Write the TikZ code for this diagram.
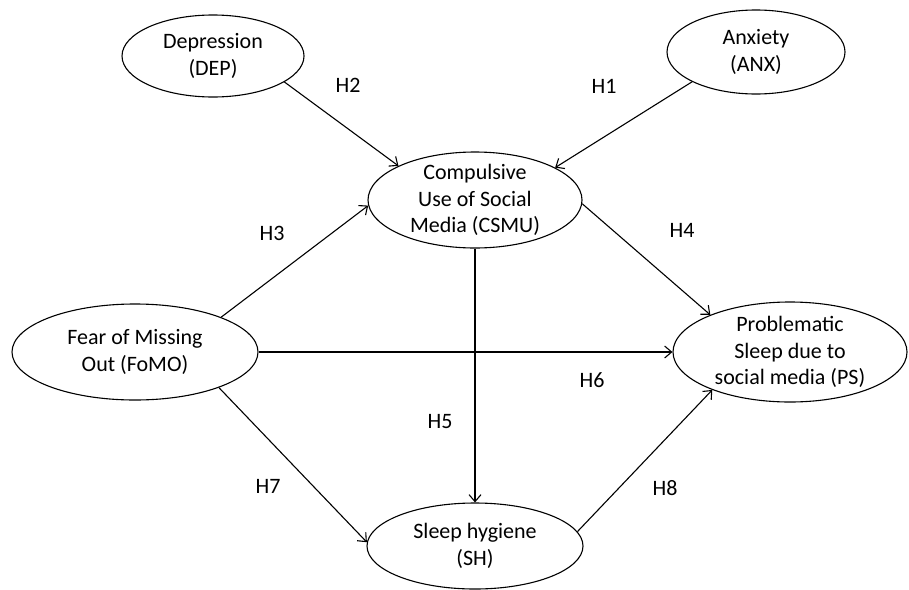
\documentclass[tikz,border=0pt]{standalone}
\usepackage{fontspec}
\setmainfont{Carlito}
\usetikzlibrary{arrows.meta,shapes.geometric}

\begin{document}
\begin{tikzpicture}[x=1pt, y=-1pt, line width=1.1pt,
		construct/.style = {shape=ellipse, draw, align=center, inner sep=-8pt,
	font=\fontsize{22}{26.5}\selectfont},
		hyp/.style = {font=\fontsize{22}{26.5}\selectfont},
		link/.style = {draw, -{Straight Barb[length=7pt, width=12pt]}}]
			\useasboundingbox (0,0) rectangle (909,589);
			\node[construct, minimum width=182pt, minimum height=82pt] (dep) at (213,56) {Depression \\ (DEP)};
			\node[construct, minimum width=178pt, minimum height=84pt] (anx) at (756,52) {Anxiety \\ (ANX)};
			\node[construct, minimum width=214pt, minimum height=96pt] (csmu) at (475,200) {Compulsive \\ Use of Social \\ Media (CSMU)};
			\node[construct, minimum width=246pt, minimum height=96pt] (fomo) at (135,352) {Fear of Missing \\ Out (FoMO)};
			\node[construct, minimum width=234pt, minimum height=100pt] (ps) at (790,352) {Problematic \\ Sleep due to \\ social media (PS)};
			\node[construct, minimum width=216pt, minimum height=86pt] (sh) at (475,546) {Sleep hygiene \\ (SH)};
			\path[link] (anx.205) -- (csmu.22);
			\path[link] (dep.-20) -- (csmu.156);
			\path[link] (fomo.22) -- (csmu.183);
			\path[link] (csmu.-2) -- (ps.155);
			\path[link] (csmu.south) -- (sh.north);
			\path[link] (fomo.east) -- (ps.west);
			\path[link] (fomo.-23) -- (sh.178);
			\path[link] (sh.8) -- (ps.206);
			\node[hyp] (h1) at (604,86) {H1};
			\node[hyp] (h2) at (348,85) {H2};
			\node[hyp] (h3) at (272,233) {H3};
			\node[hyp] (h4) at (682,230) {H4};
			\node[hyp] (h5) at (440,422) {H5};
			\node[hyp] (h6) at (592,380) {H6};
			\node[hyp] (h7) at (268,486) {H7};
			\node[hyp] (h8) at (665,488) {H8};
		\end{tikzpicture}
\end{document}
